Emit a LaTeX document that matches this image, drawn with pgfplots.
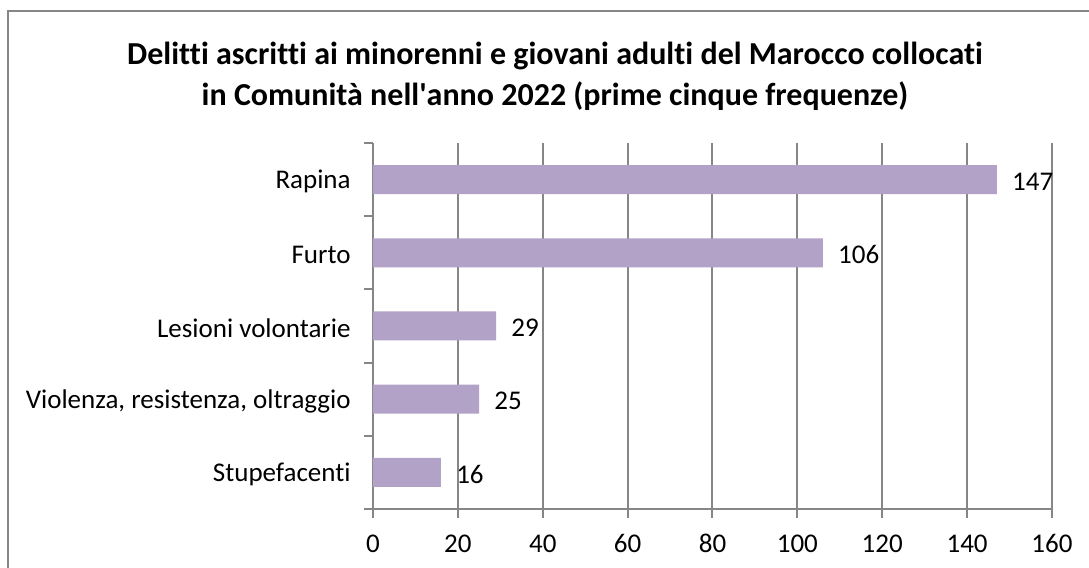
\documentclass[border=0pt]{standalone}
\usepackage{pgfplots}
\pgfplotsset{compat=1.18}
\usepackage{fontspec}
\setmainfont{Carlito}[RawFeature={-liga}]
\definecolor{barc}{HTML}{B3A2C7}
\definecolor{gridc}{HTML}{868686}
\begin{document}
\begin{tikzpicture}
\useasboundingbox (0,0) rectangle (544.5pt,284pt);
\draw[gridc, line width=1.2pt] (4pt,-10pt) -- (4pt,278.5pt) -- (560pt,278.5pt);
\node[font=\bfseries\fontsize{16}{20.5}\selectfont, align=center, inner sep=0pt] at (277.5pt,246pt) {Delitti ascritti ai minorenni e giovani adulti del Marocco collocati\\in Comunità nell\textquotesingle anno 2022 (prime cinque frequenze)};
\begin{axis}[
  at={(186.5pt,29.5pt)}, anchor=south west,
  width=339.5pt, height=183pt, scale only axis,
  xbar, bar width=14.5pt,
  xmin=0, xmax=160, ymin=-0.5, ymax=4.5,
  xtick={0,20,...,160},
  ytick={-0.5,0.5,...,4.5}, yticklabels={},
  extra y ticks={0,1,2,3,4},
  extra y tick labels={Stupefacenti,{Violenza, resistenza, oltraggio},Lesioni volontarie,Furto,Rapina},
  extra y tick style={tick style={draw=none}},
  axis x line*=bottom, axis y line*=left,
  axis line style={gridc, line width=1pt},
  tick style={gridc, line width=1pt},
  tick align=outside,
  major tick length=4.5pt,
  xmajorgrids, grid style={gridc, line width=1pt},
  /pgf/number format/assume math mode=true,
  tick label style={font=\fontsize{13.5}{16}\selectfont, text=black},
  yticklabel style={inner sep=0pt, xshift=-6.5pt, yshift=-1pt},
  xticklabel style={inner sep=0pt, text height=8.6pt, text depth=0pt, yshift=-8.5pt},
  nodes near coords,
  nodes near coords style={anchor=west, inner sep=0pt, xshift=7.5pt, yshift=-1pt, font=\fontsize{13.5}{16}\selectfont, text=black},
]
\addplot[fill=barc, draw=none] coordinates {(16,0) (25,1) (29,2) (106,3) (147,4)};
\end{axis}
\end{tikzpicture}
\end{document}
